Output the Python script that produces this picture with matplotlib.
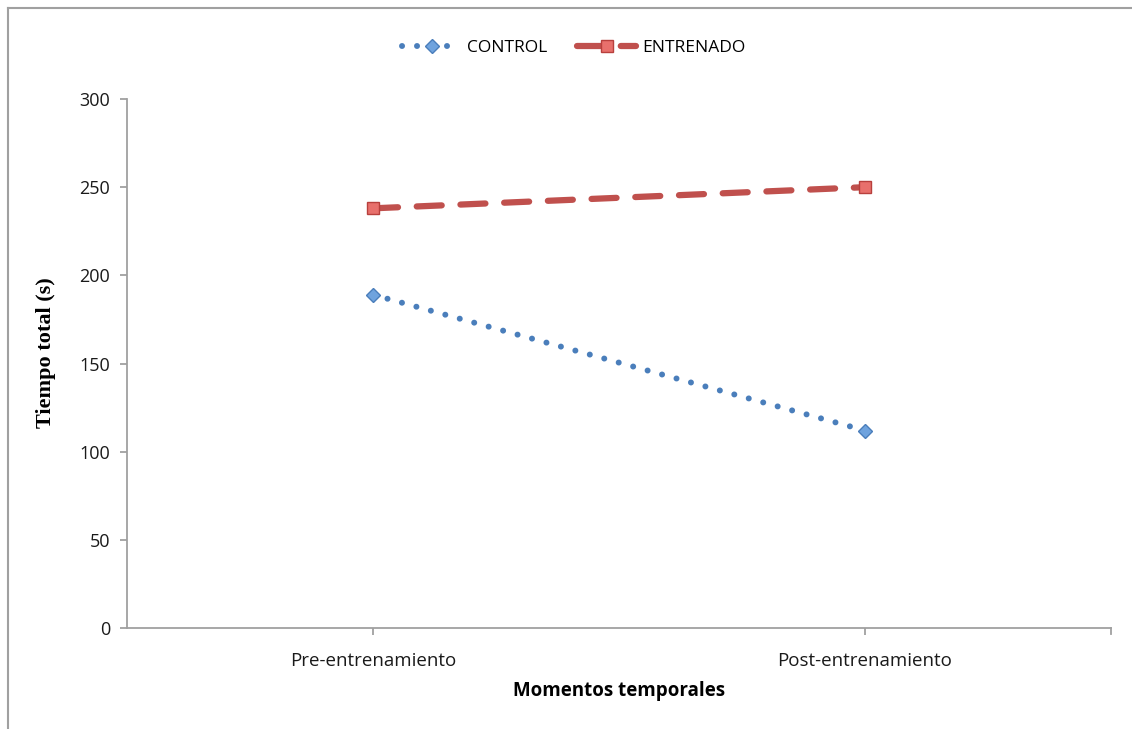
import matplotlib
matplotlib.use("Agg")
import matplotlib.pyplot as plt
from matplotlib.lines import Line2D

# Datos
momentos = ['Pre-entrenamiento', 'Post-entrenamiento']
control = [189, 112]
entrenado = [238, 250]

plt.rcParams['font.family'] = ['Open Sans', 'DejaVu Sans']
gris = '#A0A0A0'

fig = plt.figure(figsize=(11.32, 7.29), dpi=100)
ax = fig.add_axes([0.1122, 0.1385, 0.8693, 0.7257])

x = list(range(len(momentos)))

# Series
ax.plot(x, control, color='#4A7EBB', lw=4.3, linestyle=(0, (0.01, 2.5)),
        dash_capstyle='round', marker='D', markersize=7,
        markerfacecolor='#6FA3DE', markeredgecolor='#4A7EBB',
        markeredgewidth=1, label='CONTROL', zorder=3)
ax.plot(x, entrenado, color='#C0504D', lw=4.5, linestyle=(0, (4, 3)),
        dash_capstyle='round', marker='s', markersize=9,
        markerfacecolor='#E8706C', markeredgecolor='#B8403D',
        markeredgewidth=1, label='ENTRENADO', zorder=3)

# Ejes
ax.set_xlim(-0.5, 1.5)
ax.set_ylim(0, 300)
ax.set_yticks(range(0, 301, 50))
ax.set_xticks(x)
ax.set_xticklabels(momentos)
ax.tick_params(axis='both', colors=gris, labelcolor='#1A1A1A',
               labelsize=13, length=5, width=1.3, direction='out')
ax.tick_params(axis='x', pad=12, labelsize=13.5)
ax.tick_params(axis='y', pad=7)
for lado in ['top', 'right']:
    ax.spines[lado].set_visible(False)
for lado in ['left', 'bottom']:
    ax.spines[lado].set_color(gris)
    ax.spines[lado].set_linewidth(1.3)

# Marca al final del eje x
ax.plot([1.5, 1.5], [0, -3.2], color=gris, lw=1.3, clip_on=False)

ax.set_ylabel('Tiempo total (s)', family='Liberation Serif',
              fontweight='bold', fontsize=16)
ax.yaxis.set_label_coords(-0.072, 0.52)
ax.set_xlabel('Momentos temporales', fontweight='bold', fontsize=13.5,
              labelpad=8)

fig.legend(*ax.get_legend_handles_labels(), loc='center',
           bbox_to_anchor=(0.507, 1 - 48 / 729), ncol=2,
           frameon=False, fontsize=12.5, handlelength=3.4,
           columnspacing=1.7, handletextpad=0.35)

# Marco exterior (superior e izquierdo)
fig.add_artist(Line2D([8 / 1132, 1.0], [1 - 8 / 729, 1 - 8 / 729],
                      color=gris, lw=1.5))
fig.add_artist(Line2D([8 / 1132, 8 / 1132], [0, 1 - 8 / 729],
                      color=gris, lw=1.5))

fig.savefig('out.png', dpi=100)
